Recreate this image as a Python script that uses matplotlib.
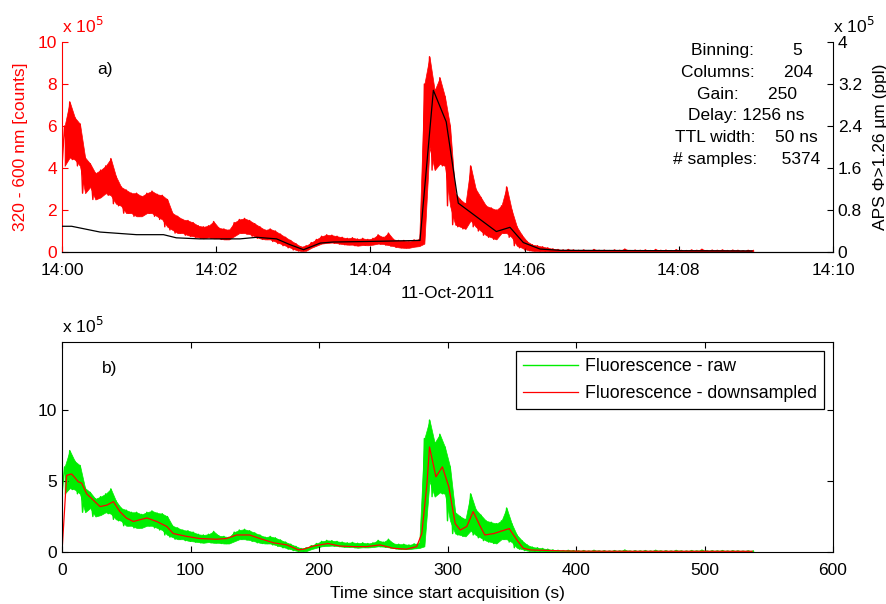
import numpy as np
import matplotlib
matplotlib.use('Agg')
import matplotlib.pyplot as plt
import matplotlib.dates as mdates

plt.rcParams['font.family'] = ['Liberation Sans', 'DejaVu Sans']
plt.rcParams['font.size'] = 12.5

# raw fluorescence (x 1e5 counts), read as min / max envelope per 4 s bin
raw_t = np.arange(0, 540, 4)
raw_hi = [6.0, 7.15, 6.4, 6.1, 4.5, 4.2, 3.75, 3.9, 4.1, 4.45,
          3.6, 3.1, 2.95, 2.8, 2.8, 2.65, 2.8, 2.9, 2.75, 2.7,
          2.5, 1.85, 1.7, 1.55, 1.5, 1.4, 1.25, 1.2, 1.25, 1.45,
          1.15, 1.1, 1.05, 1.4, 1.55, 1.6, 1.5, 1.35, 1.2, 1.05,
          1.1, 1.0, 0.85, 0.7, 0.55, 0.4, 0.25, 0.3, 0.45, 0.6,
          0.75, 0.82, 0.8, 0.75, 0.7, 0.65, 0.68, 0.62, 0.65, 0.6,
          0.65, 0.82, 0.7, 0.9, 0.6, 0.55, 0.55, 0.5, 0.58, 0.6,
          8.0, 9.3, 7.7, 8.3, 7.4, 6.0, 2.8, 2.5, 2.3, 4.1,
          3.0, 2.6, 2.2, 2.1, 2.0, 2.2, 3.1, 2.0, 1.2, 0.8,
          0.5, 0.35, 0.3, 0.25, 0.2, 0.15, 0.12, 0.1, 0.12, 0.1,
          0.08, 0.1, 0.07, 0.12, 0.08, 0.09, 0.07, 0.1, 0.08, 0.14,
          0.07, 0.09, 0.08, 0.1, 0.07, 0.12, 0.08, 0.09, 0.07, 0.11,
          0.08, 0.07, 0.1, 0.08, 0.13, 0.07, 0.09, 0.08, 0.1, 0.07,
          0.09, 0.08, 0.06, 0.08, 0.07]
raw_lo = [4.1, 4.5, 4.4, 4.1, 2.8, 3.1, 2.5, 2.6, 2.8, 2.7,
          2.3, 2.2, 1.85, 1.85, 1.7, 1.7, 1.85, 1.85, 1.7, 1.55,
          1.2, 1.05, 0.9, 0.9, 0.8, 0.75, 0.7, 0.65, 0.7, 0.65,
          0.65, 0.6, 0.6, 0.75, 0.9, 0.9, 0.85, 0.75, 0.65, 0.6,
          0.6, 0.5, 0.4, 0.3, 0.2, 0.1, 0.05, 0.06, 0.2, 0.3,
          0.4, 0.43, 0.45, 0.42, 0.38, 0.35, 0.35, 0.3, 0.33, 0.32,
          0.35, 0.4, 0.38, 0.33, 0.28, 0.22, 0.2, 0.2, 0.25, 0.28,
          0.4, 5.0, 3.9, 4.2, 4.1, 2.2, 1.3, 1.2, 1.1, 1.5,
          1.2, 1.0, 0.8, 0.7, 0.6, 0.9, 0.9, 0.7, 0.3, 0.2,
          0.1, 0.06, 0.05, 0.04, 0.03, 0.02, 0.02, 0.01, 0.01, 0.01] + [0.01] * 35

# downsampled fluorescence (x 1e5 counts)
ds_t = [0, 3.6, 7.5, 12.7, 15.3, 19.2, 24.4, 29.6, 34.8, 40, 45, 50, 55.5, 66,
        73.7, 81.5, 86.6, 97, 107, 120, 128, 136, 146, 154, 164.5, 175, 184,
        188, 195.6, 207, 216, 227, 237, 247.5, 258, 268, 276, 280, 284, 286,
        291, 296, 301, 306, 310, 315, 320, 325, 329, 336, 348, 354, 359, 365,
        381, 400, 450, 500, 537]
ds_v = [0, 5.4, 5.5, 4.95, 4.85, 4.1, 3.65, 3.2, 3.3, 3.55, 2.85, 2.4, 2.15, 2.4,
        2.15, 1.8, 1.3, 1.1, 0.95, 0.9, 0.95, 1.2, 1.2, 0.95, 0.65, 0.5, 0.15,
        0.2, 0.42, 0.6, 0.42, 0.38, 0.38, 0.5, 0.26, 0.2, 0.38, 1.3, 4.8, 7.4,
        5.3, 6.0, 4.6, 2.0, 1.55, 1.8, 2.85, 1.9, 1.2, 1.3, 1.65, 0.85, 0.26, 0.14,
        0.1, 0.06, 0.05, 0.05, 0.05]

# APS particle counts (x 1e5 ppl)
aps_t = [0, 7.5, 29.6, 58, 79, 89, 107, 138.5, 151.5, 167, 177.4, 188, 201, 211,
         237, 278.6, 289, 299, 308.4, 338, 348.6, 359, 372, 387.5, 537]
aps_v = [0.49, 0.49, 0.38, 0.33, 0.33, 0.27, 0.25, 0.25, 0.28, 0.25, 0.14, 0.044,
         0.17, 0.19, 0.2, 0.22, 3.08, 2.48, 0.93, 0.39, 0.47, 0.18, 0.056, 0.032, 0.02]

info_lines = ["Binning:        5", "Columns:      204", "Gain:      250",
              "Delay: 1256 ns", "TTL width:    50 ns", "# samples:     5374"]

start = np.datetime64('2011-10-11T14:00:00')


def to_time(sec):
    return start + (np.asarray(sec) * 1000).astype('timedelta64[ms]')


# raw series drawn as alternating min / max within each bin
zig_t = np.empty(2 * len(raw_t))
zig_t[0::2] = raw_t
zig_t[1::2] = raw_t + 2
zig_v = np.empty(2 * len(raw_t))
zig_v[0::2] = raw_lo
zig_v[1::2] = raw_hi


def draw_raw(ax, x_mid, x_zig, color, label=None):
    ax.fill_between(x_mid, raw_lo, raw_hi, color=color, lw=0.5)
    ax.plot(x_zig, zig_v, color=color, lw=1.0, label=label)


red = '#ff0000'
green = '#00ee00'
fig = plt.figure(figsize=(8.87, 6.04), dpi=100)

# ---- panel a)
ax1 = fig.add_axes([62 / 887, 1 - 252 / 604, 771 / 887, 210 / 604])
draw_raw(ax1, to_time(raw_t + 2), to_time(zig_t), red)
ax1.set_ylim(0, 10)
ax1.set_yticks([0, 2, 4, 6, 8, 10])
ax1.set_xlim(start, start + np.timedelta64(10, 'm'))
ax1.xaxis.set_major_locator(mdates.MinuteLocator(byminute=range(0, 60, 2)))
ax1.xaxis.set_major_formatter(mdates.DateFormatter('%H:%M'))
ax1.tick_params(axis='y', colors=red, direction='in', length=4)
ax1.tick_params(axis='x', direction='in', length=4, pad=8)
ax1.spines['left'].set_color(red)
ax1.spines['top'].set_visible(False)
ax1.spines['right'].set_visible(False)
ax1.set_ylabel('320 - 600 nm [counts]', color=red, labelpad=7)
ax1.set_xlabel('11-Oct-2011', labelpad=6)
ax1.text(0, 1.03, r'x 10$^5$', color=red, transform=ax1.transAxes, va='bottom')
ax1.text(0.056, 0.87, 'a)', transform=ax1.transAxes, ha='center', va='center')

ax2 = ax1.twinx()
ax2.plot(to_time(aps_t), aps_v, color='k', lw=0.9)
ax2.set_ylim(0, 4)
ax2.set_yticks([0, 0.8, 1.6, 2.4, 3.2, 4])
ax2.set_yticklabels(['0', '0.8', '1.6', '2.4', '3.2', '4'])
ax2.tick_params(axis='y', direction='in', length=4)
ax2.spines['top'].set_visible(False)
ax2.spines['left'].set_visible(False)
ax2.set_ylabel('APS \u03a6>1.26 \u00b5m (ppl)', labelpad=8)
ax2.text(1.0, 1.03, r'x 10$^5$', transform=ax2.transAxes, va='bottom')
ax2.text(0.888, 0.7, '\n'.join(info_lines), transform=ax2.transAxes,
         ha='center', va='center', multialignment='center', linespacing=1.56)

# ---- panel b)
ax3 = fig.add_axes([62 / 887, 1 - 552 / 604, 771 / 887, 210 / 604])
draw_raw(ax3, raw_t + 2, zig_t, green, label='Fluorescence - raw')
ax3.plot(ds_t, ds_v, color=red, lw=0.9, label='Fluorescence - downsampled')
ax3.set_xlim(0, 600)
ax3.set_ylim(0, 14.8)
ax3.set_xticks(range(0, 601, 100))
ax3.set_yticks([0, 5, 10])
ax3.tick_params(direction='in', length=4, top=True, right=True)
ax3.tick_params(axis='x', pad=8)
ax3.set_xlabel('Time since start acquisition (s)', labelpad=6)
ax3.text(0, 1.03, r'x 10$^5$', transform=ax3.transAxes, va='bottom')
ax3.text(0.062, 0.876, 'b)', transform=ax3.transAxes, ha='center', va='center')
leg = ax3.legend(loc='upper right', fancybox=False, edgecolor='k', framealpha=1,
                 borderaxespad=0.5, borderpad=0.4, handlelength=3.1,
                 handletextpad=0.4, labelspacing=0.55, fontsize=12.8)
leg.get_frame().set_linewidth(0.9)

fig.savefig('out.png', dpi=100)
